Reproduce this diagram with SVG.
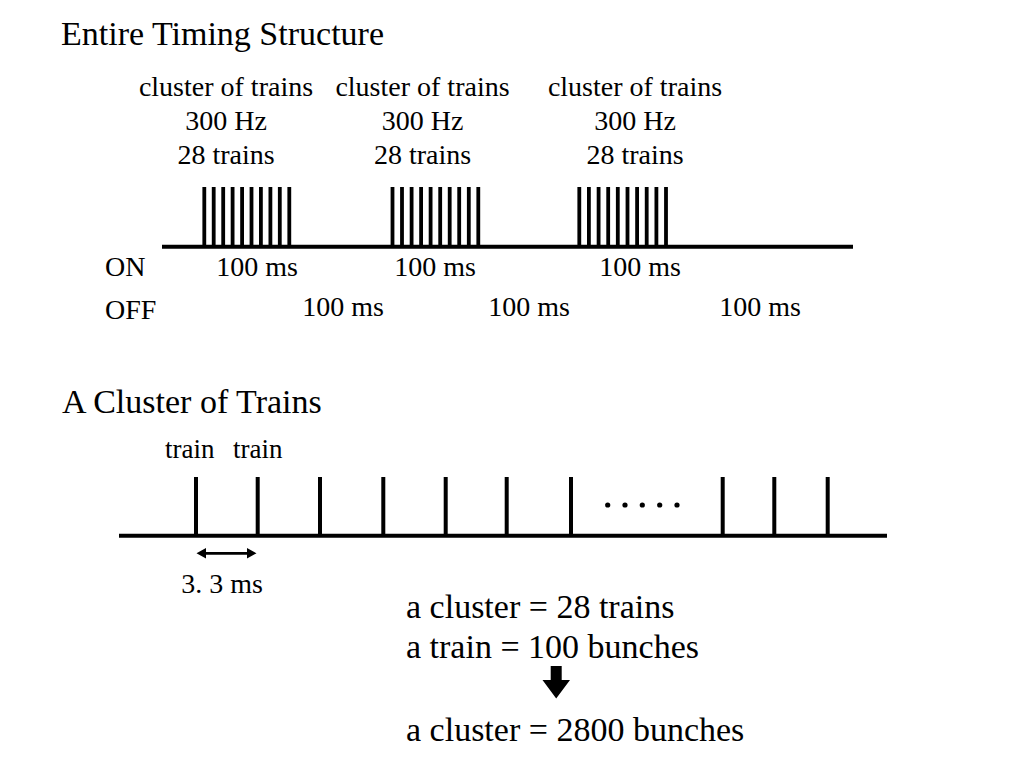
<svg xmlns="http://www.w3.org/2000/svg" width="1024" height="768" viewBox="0 0 1024 768">
  <style>
    text { font-family: "Liberation Serif", "Times New Roman", serif; fill: #000; }
    .h { font-size: 34px; }
    .m { font-size: 28px; }
    .b { font-size: 34px; }
    .s { font-size: 27px; }
    .c { text-anchor: middle; }
    .base { stroke: #000; stroke-width: 4; fill: none; }
    .p { stroke: #000; stroke-width: 3.8; fill: none; }
    .pb { stroke: #000; stroke-width: 4; fill: none; }
  </style>
  <rect width="1024" height="768" fill="#fff"/>

  <g id="title-entire">
    <text class="h" x="61" y="45">Entire Timing Structure</text>
  </g>

  <g id="cluster-1-label">
    <text class="m c" x="226" y="96">cluster of trains</text>
    <text class="m c" x="226" y="130">300 Hz</text>
    <text class="m c" x="226" y="164">28 trains</text>
  </g>
  <g id="cluster-2-label">
    <text class="m c" x="422.5" y="96">cluster of trains</text>
    <text class="m c" x="422.5" y="130">300 Hz</text>
    <text class="m c" x="422.5" y="164">28 trains</text>
  </g>
  <g id="cluster-3-label">
    <text class="m c" x="635" y="96">cluster of trains</text>
    <text class="m c" x="635" y="130">300 Hz</text>
    <text class="m c" x="635" y="164">28 trains</text>
  </g>

  <g id="timeline-entire">
    <line class="base" x1="162" y1="246.7" x2="853" y2="246.7"/>
    <g id="pulses-1">
      <path class="p" d="M204.3,187 V246 M213.7,187 V246 M223.2,187 V246 M232.6,187 V246 M242.1,187 V246 M251.5,187 V246 M260.9,187 V246 M270.4,187 V246 M279.8,187 V246 M289.3,187 V246"/>
    </g>
    <g id="pulses-2">
      <path class="p" d="M392.5,187 V246 M402,187 V246 M411.6,187 V246 M421.1,187 V246 M430.6,187 V246 M440.2,187 V246 M449.7,187 V246 M459.2,187 V246 M468.8,187 V246 M478.3,187 V246"/>
    </g>
    <g id="pulses-3">
      <path class="p" d="M579.3,187 V246 M588.9,187 V246 M598.6,187 V246 M608.2,187 V246 M617.8,187 V246 M627.5,187 V246 M637.1,187 V246 M646.7,187 V246 M656.4,187 V246 M666,187 V246"/>
    </g>
  </g>

  <g id="on-row">
    <text class="m" x="105" y="276">ON</text>
    <text class="m c" x="257" y="276">100 ms</text>
    <text class="m c" x="435" y="276">100 ms</text>
    <text class="m c" x="640" y="276">100 ms</text>
  </g>
  <g id="off-row">
    <text class="m" x="105" y="319">OFF</text>
    <text class="m c" x="343" y="316">100 ms</text>
    <text class="m c" x="529" y="316">100 ms</text>
    <text class="m c" x="760" y="316">100 ms</text>
  </g>

  <g id="title-cluster">
    <text class="h" x="62" y="413">A Cluster of Trains</text>
  </g>

  <g id="train-labels">
    <text class="s" x="165" y="458">train</text>
    <text class="s" x="233" y="458">train</text>
  </g>

  <g id="timeline-cluster">
    <line class="base" x1="119" y1="535.7" x2="887" y2="535.7"/>
    <path class="pb" d="M196,477 V535 M257.7,477 V535 M320,477 V535 M383.3,477 V535 M445.7,477 V535 M506.7,477 V535 M571,477 V535 M722.7,477 V535 M774.3,477 V535 M827.7,477 V535"/>
    <g id="ellipsis">
      <circle cx="607.7" cy="505" r="2.6"/>
      <circle cx="625" cy="505" r="2.6"/>
      <circle cx="642.3" cy="505" r="2.6"/>
      <circle cx="659.7" cy="505" r="2.6"/>
      <circle cx="677" cy="505" r="2.6"/>
    </g>
  </g>

  <g id="period-label">
    <text class="m c" x="222" y="593">3. 3 ms</text>
  </g>

  <g id="summary">
    <text class="b" x="406" y="618">a cluster = 28 trains</text>
    <text class="b" x="406" y="658">a train = 100 bunches</text>
    <text class="b" x="406" y="741">a cluster = 2800 bunches</text>
  </g>

  <g id="connectors">
    <line x1="203" y1="553.3" x2="250" y2="553.3" stroke="#000" stroke-width="2.8"/>
    <path d="M196.5,553.3 L206,548 L206,558.6 Z M256.5,553.3 L247,548 L247,558.6 Z" fill="#000"/>
    <path d="M550.7,666 H561.7 V680 H570 L556.2,698.5 L542.5,680 H550.7 Z" fill="#000"/>
  </g>
</svg>
